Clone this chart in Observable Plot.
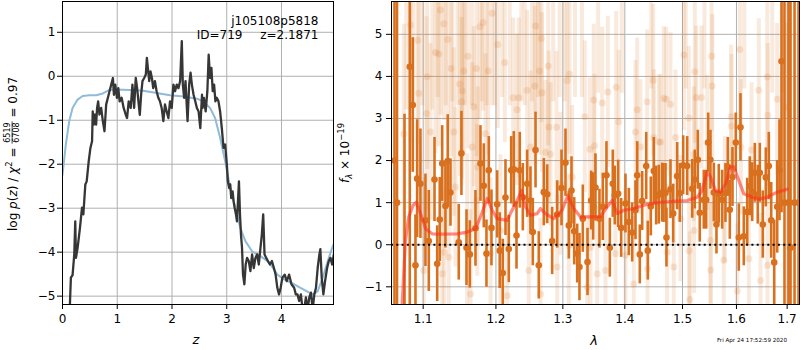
<!DOCTYPE html>
<html><head><meta charset="utf-8">
<script src="https://cdn.jsdelivr.net/npm/d3@7"></script>
<script src="https://cdn.jsdelivr.net/npm/@observablehq/plot@0.6"></script>
<style>
body{margin:0;background:#fff;}
#wrap{position:relative;width:800px;height:350px;font-family:"DejaVu Sans",sans-serif;}
#wrap svg{position:absolute;top:0;}
</style></head><body><div id="wrap"></div>
<script>
// ---------- left panel: p(z) ----------
const zVals = [0.12,0.135,0.153,0.184,0.215,0.233,0.246,0.276,0.319,0.356,0.381,0.417,0.442,0.479,0.510,0.540,0.552,0.571,0.595,0.614,0.632,0.651,0.675,0.706,0.737,0.767,0.798,0.829,0.859,0.890,0.921,0.939,0.964,0.994,1.019,1.044,1.080,1.117,1.154,1.179,1.209,1.246,1.277,1.308,1.338,1.363,1.387,1.412,1.436,1.461,1.492,1.522,1.541,1.559,1.584,1.608,1.633,1.657,1.688,1.719,1.750,1.780,1.811,1.842,1.872,1.903,1.934,1.964,1.995,2.026,2.056,2.087,2.118,2.149,2.179,2.198,2.222,2.247,2.284,2.314,2.339,2.363,2.394,2.425,2.455,2.486,2.517,2.548,2.560,2.584,2.615,2.646,2.670,2.695,2.720,2.744,2.769,2.793,2.818,2.849,2.879,2.910,2.941,2.971,3.002,3.020,3.045,3.064,3.082,3.107,3.125,3.144,3.168,3.187,3.205,3.223,3.242,3.260,3.279,3.297,3.322,3.346,3.371,3.402,3.432,3.463,3.494,3.524,3.555,3.586,3.616,3.641,3.666,3.690,3.721,3.752,3.789,3.825,3.862,3.893,3.924,3.955,3.985,4.016,4.059,4.096,4.139,4.182,4.231,4.262,4.292,4.323,4.354,4.385,4.415,4.446,4.477,4.508,4.538,4.569,4.600,4.630,4.661,4.692,4.710,4.735,4.765,4.796,4.833,4.864,4.894,4.925,4.956,4.986];
const logpVals = [-5.5,-5.2,-4.58,-4.52,-4.05,-3.30,-4.13,-3.90,-3.45,-2.99,-3.14,-2.46,-2.39,-1.93,-1.63,-1.48,-0.80,-1.10,-0.87,-1.10,-0.72,-0.57,-0.87,-0.72,-1.02,-1.25,-0.64,-0.49,-0.34,-0.19,-0.04,-0.42,-0.19,-0.49,-0.27,-0.57,-0.49,-0.72,-0.87,-0.95,-0.57,-0.72,-0.19,-0.72,-0.04,-0.27,-0.57,-0.88,-0.42,-0.11,-0.04,0.04,0.42,0.19,-0.11,0.11,-0.04,-0.27,-0.11,-0.34,-0.49,-0.57,-0.72,-1.02,-0.64,-0.80,-0.95,-0.57,-0.72,-0.19,-0.34,-0.19,-0.27,-0.11,0.80,-0.19,-0.49,-0.11,-1.02,-0.19,0.08,-0.19,-0.42,-0.57,-0.72,-0.80,-1.18,-0.42,-0.72,-0.49,-0.80,-0.34,0.49,-0.04,0.19,-0.34,-0.19,-0.57,-0.49,-0.57,-0.80,-1.18,-1.63,-1.55,-2.01,-2.39,-2.54,-2.46,-2.77,-2.62,-2.84,-2.99,-3.14,-3.30,-2.84,-2.39,-3.14,-3.60,-3.90,-4.51,-4.73,-4.28,-4.13,-4.20,-4.43,-4.05,-4.36,-4.13,-4.05,-4.28,-3.90,-3.60,-3.14,-4.05,-4.13,-4.20,-4.28,-4.20,-4.36,-4.51,-4.81,-4.96,-4.81,-4.58,-4.51,-4.66,-4.51,-4.73,-4.81,-4.96,-4.96,-5.11,-4.96,-5.3,-5.3,-5.03,-5.3,-5.03,-4.92,-5.3,-4.96,-4.81,-4.36,-4.05,-3.93,-4.58,-4.96,-4.66,-4.36,-4.20,-4.13,-4.28,-4.05,-3.98];
const zSmooth = [0,0.061,0.123,0.184,0.276,0.368,0.491,0.614,0.737,0.859,0.982,1.228,1.473,1.719,1.964,2.210,2.455,2.572,2.695,2.787,2.879,2.971,3.064,3.156,3.248,3.340,3.463,3.616,3.739,3.801,3.924,4.047,4.231,4.415,4.569,4.661,4.753,4.845,4.937,4.998];
const logpSmooth = [-2.24,-1.55,-1.02,-0.72,-0.53,-0.45,-0.43,-0.43,-0.39,-0.31,-0.30,-0.31,-0.33,-0.38,-0.43,-0.46,-0.51,-0.57,-0.72,-0.95,-1.40,-1.93,-2.54,-2.99,-3.45,-3.75,-3.98,-4.09,-4.20,-4.28,-4.51,-4.62,-4.73,-4.86,-4.96,-4.89,-4.58,-4.20,-3.86,-3.71];
const zTicks = [0,1,2,3,4];
const pTicks = [-5,-4,-3,-2,-1,0,1];

// ---------- right panel: spectrum ----------
const darkLam = [1.0629,1.0661,1.0757,1.0825,1.0864,1.0899,1.0921,1.0964,1.1030,1.1074,1.1150,1.1186,1.1220,1.1253,1.1297,1.1328,1.1365,1.1478,1.1515,1.1585,1.1631,1.1710,1.1780,1.1827,1.1865,1.1898,1.1936,1.2018,1.2055,1.2099,1.2138,1.2186,1.2221,1.2259,1.2299,1.2347,1.2392,1.2457,1.2506,1.2541,1.2582,1.2631,1.2707,1.2759,1.2835,1.2912,1.2979,1.3041,1.3093,1.3135,1.3178,1.3225,1.3261,1.3314,1.3389,1.3448,1.3480,1.3517,1.3582,1.3636,1.3696,1.3751,1.3800,1.3833,1.3889,1.3939,1.4011,1.4067,1.4124,1.4180,1.4209,1.4253,1.4294,1.4363,1.4390,1.4442,1.4494,1.4535,1.4581,1.4640,1.4658,1.4698,1.4715,1.4786,1.4834,1.4905,1.4952,1.5012,1.5084,1.5175,1.5222,1.5277,1.5313,1.5387,1.5431,1.5468,1.5510,1.5572,1.5622,1.5665,1.5729,1.5791,1.5835,1.5873,1.5924,1.5987,1.6045,1.6077,1.6141,1.6207,1.6257,1.6304,1.6355,1.6413,1.6453,1.6512,1.6571,1.6631,1.6679,1.6739,1.6799,1.6845,1.6886,1.6946,1.7028,1.7069,1.7151,1.7233];
const darkF = [2.0,1.0,-2.0,4.23,3.32,-0.49,1.57,1.45,0.58,0.09,1.55,-0.45,0.60,1.93,0.92,1.99,1.24,0.06,2.17,-0.07,-0.23,0.39,1.93,1.40,-0.21,1.77,0.40,0.96,-0.14,-0.67,1.12,-0.10,1.77,1.79,0.22,1.77,1.13,1.45,1.05,0.30,2.25,-0.49,1.25,1.20,0.09,0.72,1.35,1.95,0.46,1.29,0.32,-0.21,-0.53,0.62,-0.41,1.05,0.91,1.36,0.62,0.90,1.65,-0.07,1.45,1.17,1.21,0.40,0.98,0.54,0.29,0.82,1.65,-0.23,1.04,1.87,-0.14,0.91,1.75,1.17,1.19,1.24,1.23,1.23,0.17,1.32,0.74,1.63,1.23,1.89,1.87,1.33,1.55,2.02,0.76,1.07,1.07,2.43,2.02,1.24,0.48,1.21,1.07,1.23,1.85,0.83,1.61,2.43,0.17,2.79,0.20,0.78,1.39,1.25,1.71,1.19,1.71,0.48,1.60,1.87,0.58,-0.42,0.90,1.77,4.36,1.0,1.0,-0.07,1.0,1.0];
const darkErr = [9,9,5.1,9,1.6,1.2,1.4,1.3,1.1,1.2,1.0,0.9,1.0,0.9,1.0,1.1,0.8,0.9,1.0,0.9,0.8,0.9,0.9,1.0,0.8,0.8,0.9,0.8,0.9,0.8,0.9,0.8,0.8,0.9,0.8,0.9,0.8,0.8,0.8,0.8,0.9,0.8,0.8,0.7,0.8,0.8,0.9,0.8,0.8,0.8,0.8,0.7,0.8,0.8,0.8,0.7,0.8,0.8,0.7,0.8,0.8,0.7,0.8,0.7,0.8,0.7,0.7,0.8,0.7,0.7,0.8,0.7,0.7,0.8,0.7,0.7,0.8,0.7,0.7,0.7,0.7,0.7,0.7,0.7,0.7,0.8,0.7,0.7,0.7,0.7,0.7,0.7,0.7,0.7,0.7,0.7,0.7,0.7,0.7,0.7,0.7,0.7,0.7,0.7,0.7,0.7,0.8,0.8,0.7,0.8,0.7,0.7,0.7,0.7,0.7,0.8,0.7,0.8,0.9,1.0,1.1,1.2,3.6,9,9,9,9,9];

const fadedLam = [1.0748,1.0780,1.0834,1.0870,1.0929,1.0942,1.0990,1.1008,1.1043,1.1053,1.1096,1.1120,1.1163,1.1190,1.1207,1.1230,1.1253,1.1274,1.1280,1.1300,1.1328,1.1342,1.1374,1.1390,1.1410,1.1433,1.1460,1.1492,1.1518,1.1525,1.1547,1.1560,1.1594,1.1603,1.1640,1.1660,1.1664,1.1686,1.1724,1.1734,1.1742,1.1770,1.1800,1.1818,1.1851,1.1870,1.1889,1.1922,1.1946,1.1980,1.2026,1.2065,1.2090,1.2128,1.2163,1.2200,1.2250,1.2305,1.2332,1.2370,1.2420,1.2457,1.2481,1.2506,1.2530,1.2571,1.2582,1.2620,1.2642,1.2657,1.2672,1.2680,1.2733,1.2774,1.2783,1.2809,1.2850,1.2901,1.2912,1.2950,1.2963,1.3030,1.3068,1.3093,1.3103,1.3146,1.3190,1.3300,1.3346,1.3384,1.3426,1.3437,1.3490,1.3501,1.3545,1.3560,1.3626,1.3680,1.3718,1.3845,1.3856,1.3899,1.3950,1.4011,1.4151,1.4180,1.4209,1.4265,1.4380,1.4385,1.4450,1.4483,1.4494,1.4581,1.4610,1.4669,1.4711,1.4728,1.4786,1.4845,1.4875,1.4964,1.5024,1.5060,1.5114,1.5120,1.5132,1.5204,1.5210,1.5222,1.5248,1.5345,1.5400,1.5450,1.5510,1.5515,1.5530,1.5543,1.5759,1.5779,1.5899,1.5905,1.6014,1.6064,1.6085,1.6150,1.6238,1.6291,1.6433,1.6467,1.6600,1.6605,1.6611,1.6700,1.6799,1.6900,1.6981];
const fadedF = [2.64,6.2,5.22,6.5,4.86,3.60,6.3,-0.61,3.12,3.99,2.68,6.0,4.57,6.6,4.53,5.58,-0.69,5.25,-0.18,6.2,4.88,-0.30,4.19,6.4,2.68,1.37,6.0,3.82,3.40,3.66,4.13,6.3,0.26,4.48,-1.17,6.1,2.32,3.28,4.19,1.05,1.85,5.18,6.4,5.28,2.64,6.0,4.13,-0.21,5.50,6.2,4.76,0.34,6.5,4.33,-1.21,6.1,3.49,3.21,3.49,6.3,6.0,3.67,-0.61,2.32,6.2,3.77,5.20,6.4,4.13,-1.17,4.90,3.61,2.20,4.25,2.80,2.15,6.1,2.79,-0.53,6.3,1.45,6.0,3.90,-0.02,4.05,1.61,6.2,6.0,3.04,-1.01,2.27,-0.06,3.44,2.35,-0.69,6.1,3.37,-0.61,3.63,-0.21,3.74,2.92,6.0,-0.25,-0.93,2.68,3.21,2.32,3.40,-0.57,6.0,3.91,2.55,2.44,2.44,3.48,3.46,-0.18,3.34,-0.53,2.55,0.62,4.51,6.1,3.01,-0.14,-1.30,2.15,0.34,4.11,3.50,3.50,6.0,2.42,0.10,-0.60,4.48,3.77,-0.37,1.07,3.04,2.82,-1.10,4.64,2.32,6.0,-0.33,2.25,3.67,-0.85,3.99,-0.49,3.08,6.2,3.46,6.4,3.26];
const fadedErr = [2.6,3.0,2.8,3.2,2.5,2.4,3.0,2.2,2.3,2.2,2.1,2.8,2.4,3.1,2.2,2.5,2.0,2.3,2.1,2.9,2.2,2.0,2.1,3.0,2.0,1.9,2.7,2.2,2.0,2.1,2.0,3.0,1.9,2.2,2.0,2.8,2.0,1.9,2.1,1.8,1.9,2.2,3.0,2.1,1.9,2.7,2.0,1.8,2.2,2.9,2.0,1.8,3.0,1.9,1.9,2.8,1.9,1.8,1.9,2.9,2.7,1.9,1.8,1.8,2.8,1.9,2.1,2.9,2.0,1.8,2.0,1.9,1.7,1.9,1.8,1.7,2.7,1.8,1.7,2.8,1.7,2.6,1.9,1.7,1.9,1.7,2.7,2.5,1.8,1.7,1.7,1.6,1.8,1.7,1.6,2.5,1.8,1.6,1.8,1.6,1.8,1.7,2.4,1.6,1.6,1.7,1.7,1.6,1.7,1.6,2.3,1.8,1.6,1.6,1.6,1.7,1.7,1.6,1.7,1.6,1.6,1.5,1.8,2.4,1.7,1.6,1.6,1.6,1.5,1.7,1.7,1.7,2.3,1.6,1.5,1.6,1.8,1.7,1.6,1.5,1.7,1.7,1.6,1.8,1.6,2.3,1.6,1.6,1.7,1.6,1.8,1.6,1.7,2.6,1.8,2.8,2.0];

const modelLam = [1.0700,1.0727,1.0769,1.0812,1.0869,1.0912,1.0965,1.1031,1.1119,1.1230,1.1457,1.1594,1.1710,1.1780,1.1876,1.1946,1.2018,1.2163,1.2210,1.2308,1.2373,1.2432,1.2506,1.2607,1.2657,1.2733,1.2860,1.2990,1.3077,1.3171,1.3278,1.3437,1.3599,1.3708,1.3791,1.3874,1.3984,1.4151,1.4380,1.4611,1.4845,1.5084,1.5267,1.5357,1.5450,1.5512,1.5605,1.5697,1.5792,1.5887,1.5949,1.6045,1.6142,1.6304,1.6433,1.6600,1.6799,1.7002];
const modelF = [-2.0,-1.42,0.10,0.66,0.94,1.01,0.74,0.38,0.26,0.25,0.26,0.30,0.38,0.66,1.10,0.82,0.62,0.58,0.74,1.05,1.29,0.90,0.70,0.74,0.86,0.74,0.62,0.82,1.17,0.86,0.66,0.66,0.67,0.90,1.05,0.74,0.82,0.86,0.96,1.01,1.03,1.05,1.13,1.29,1.73,1.61,1.29,1.25,1.45,1.85,1.85,1.53,1.21,1.13,1.08,1.13,1.25,1.32];
const lamTicks = [1.1,1.2,1.3,1.4,1.5,1.6,1.7];
const fTicks = [-1,0,1,2,3,4,5];

const dark = darkLam.map((l,i)=>({lam:l, f:darkF[i], err:darkErr[i]}));
const faded = fadedLam.map((l,i)=>({lam:l, f:fadedF[i], err:fadedErr[i]}));
const model = modelLam.map((l,i)=>({lam:l, f:modelF[i]}));
const pz = zVals.map((z,i)=>({z, p:logpVals[i]}));
const pzS = zSmooth.map((z,i)=>({z, p:logpSmooth[i]}));

const ORANGE = "#d9701e";
const GRID = "#b0b0b0";
const baseStyle = {fontFamily:"DejaVu Sans", fontSize:"12px", color:"black", background:"transparent", overflow:"visible"};

const left = Plot.plot({
  width: 340, height: 350, marginLeft: 62, marginRight: 7, marginTop: 1, marginBottom: 46,
  style: baseStyle,
  x: {domain:[0,4.95]},
  y: {domain:[-5.19,1.70]},
  marks: [
    Plot.gridX(zTicks, {stroke: GRID, strokeOpacity: 1}),
    Plot.gridY(pTicks, {stroke: GRID, strokeOpacity: 1}),
    Plot.line(pzS, {x:"z", y:"p", stroke:"#8fbbd9", strokeWidth:2, clip:true}),
    Plot.line(pz, {x:"z", y:"p", stroke:"#363636", strokeWidth:2.3, clip:true}),
    Plot.axisX(zTicks, {tickSize:5, tickPadding:5, label:null}),
    Plot.axisY(pTicks, {tickSize:5, tickPadding:2, label:null}),
    Plot.frame({stroke:"black"}),
    Plot.text(["j105108p5818"], {text:d=>d, frameAnchor:"top-right", dx:-15, dy:14.5, fontSize:12}),
    Plot.text(["z=2.1871"], {text:d=>d, frameAnchor:"top-right", dx:-15, dy:29, fontSize:12}),
    Plot.text(["ID=719"], {text:d=>d, frameAnchor:"top-right", dx:-91, dy:29, fontSize:12})
  ]
});
left.style.left = "0px";

const right = Plot.plot({
  width: 460, height: 350, marginLeft: 51, marginRight: 1, marginTop: 1, marginBottom: 46,
  style: baseStyle,
  x: {type:"log", domain:[1.0591,1.7253]},
  y: {domain:[-1.42,5.78]},
  marks: [
    Plot.gridX(lamTicks, {stroke: GRID, strokeOpacity: 1}),
    Plot.gridY(fTicks, {stroke: GRID, strokeOpacity: 1}),
    Plot.ruleX(faded, {x:"lam", y1:d=>d.f-d.err, y2:d=>d.f+d.err, stroke:ORANGE, strokeOpacity:0.15, strokeWidth:4, clip:true}),
    Plot.dot(faded, {x:"lam", y:"f", r:3.5, fill:ORANGE, fillOpacity:0.17, clip:true}),
    Plot.ruleX(dark, {x:"lam", y1:d=>d.f-d.err, y2:d=>d.f+d.err, stroke:ORANGE, strokeWidth:2.6, clip:true}),
    Plot.dot(dark, {x:"lam", y:"f", r:3.3, fill:ORANGE, clip:true}),
    Plot.ruleY([0], {stroke:"black", strokeWidth:2, strokeDasharray:"2,3.3"}),
    Plot.line(model, {x:"lam", y:"f", stroke:"#ff2a1a", strokeOpacity:0.55, strokeWidth:3.2, clip:true}),
    Plot.axisX(lamTicks, {tickSize:5, tickPadding:5, label:null, tickFormat:d=>d.toFixed(1)}),
    Plot.axisY(fTicks, {tickSize:5, tickPadding:4, label:null}),
    Plot.frame({stroke:"black"})
  ]
});
right.style.left = "340px";

const wrap = document.getElementById("wrap");
wrap.appendChild(left);
wrap.appendChild(right);

// overlay for axis labels
const ov = d3.select(wrap).append("svg").attr("width",800).attr("height",350)
  .style("left","0px").style("pointer-events","none")
  .attr("font-family","DejaVu Sans").attr("fill","black");

ov.append("text").attr("x",196).attr("y",344).attr("text-anchor","middle").attr("font-size",13).attr("font-style","italic").text("z");
ov.append("text").attr("x",594).attr("y",345).attr("text-anchor","middle").attr("font-size",13).attr("font-style","italic").text("λ");
ov.append("text").attr("x",752).attr("y",342).attr("text-anchor","middle").attr("font-size",5.6).text("Fri Apr 24 17:52:59 2020");

function rotLabel(tx, ty, pieces){
  const g = ov.append("g");
  let x = 0;
  for (const p of pieces){
    if (p.frac){
      const n = g.append("text").attr("font-size",p.size).text(p.num);
      const d = g.append("text").attr("font-size",p.size).text(p.den);
      const w = Math.max(n.node().getComputedTextLength(), d.node().getComputedTextLength());
      n.attr("x", x+1+w/2).attr("y",-6.8).attr("text-anchor","middle");
      d.attr("x", x+1+w/2).attr("y",2.8).attr("text-anchor","middle");
      g.append("line").attr("x1",x).attr("x2",x+w+2).attr("y1",-4.4).attr("y2",-4.4).attr("stroke","black").attr("stroke-width",0.7);
      x += w+2;
    } else {
      const t = g.append("text").attr("x",x).attr("y",p.dy||0).attr("font-size",p.size||12)
        .attr("font-style",p.it?"italic":null).style("white-space","pre").text(p.t);
      x += t.node().getComputedTextLength();
    }
  }
  g.attr("transform",`translate(${tx},${ty}) rotate(-90) translate(${-x/2},0)`);
}
rotLabel(16.5, 154, [
  {t:"log "},{t:"p",it:true},{t:"("},{t:"z",it:true},{t:") / "},{t:"χ",it:true},
  {t:"2",size:8.5,dy:-5},{t:" = "},{frac:true,num:"6519",den:"6708",size:8},{t:" = 0.97"}
]);
rotLabel(349, 153, [
  {t:"f",it:true},{t:"λ",it:true,size:8.5,dy:3},{t:" × 10"},{t:"−19",size:8.5,dy:-5}
]);
</script></body></html>
